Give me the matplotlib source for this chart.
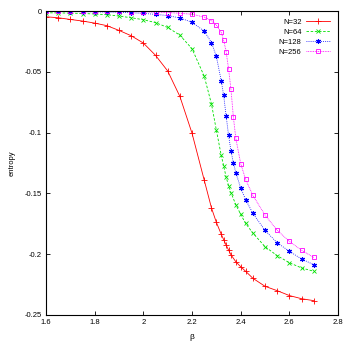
import matplotlib
matplotlib.use("Agg")
import matplotlib.pyplot as plt
from matplotlib.ticker import FuncFormatter

plt.rcParams['font.family'] = ['Liberation Sans', 'DejaVu Sans']

beta_a = [1.6, 1.65, 1.7, 1.75, 1.8, 1.85, 1.9, 1.95, 2.0, 2.05, 2.1, 2.15, 2.2, 2.25,
          2.28, 2.30, 2.32, 2.33, 2.34, 2.35, 2.36, 2.38, 2.40, 2.42, 2.45, 2.5, 2.55, 2.6, 2.65, 2.7]
beta_b = [1.6, 1.65, 1.7, 1.75, 1.8, 1.85, 1.9, 1.95, 2.0, 2.05, 2.1, 2.15, 2.2, 2.25,
          2.28, 2.30, 2.32, 2.33, 2.34, 2.35, 2.36, 2.37, 2.38, 2.40, 2.42, 2.45, 2.5, 2.55, 2.6, 2.65, 2.7]

s_32 = [-0.0047, -0.0055, -0.0069, -0.0082, -0.0099, -0.0120, -0.0159, -0.0203, -0.0263, -0.0364,
        -0.0493, -0.0702, -0.1005, -0.1390, -0.1620, -0.1738, -0.1836, -0.1880, -0.1925, -0.1965,
        -0.2005, -0.2062, -0.2103, -0.2140, -0.2198, -0.2264, -0.2300, -0.2340, -0.2366, -0.2382]
s_64 = [-0.0014, -0.0015, -0.0017, -0.0020, -0.0024, -0.0030, -0.0041, -0.0055, -0.0071, -0.0095,
        -0.0135, -0.0198, -0.0310, -0.0535, -0.0765, -0.0980, -0.1187, -0.1273, -0.1365, -0.1435,
        -0.1494, -0.1593, -0.1672, -0.1746, -0.1826, -0.1938, -0.2012, -0.2070, -0.2113, -0.2140]
s_128 = [-0.0003, -0.0003, -0.0004, -0.0005, -0.0006, -0.0008, -0.0010, -0.0014, -0.0019, -0.0027,
         -0.0037, -0.0057, -0.0092, -0.0165, -0.0259, -0.0373, -0.0573, -0.0694, -0.0860, -0.1020,
         -0.1150, -0.1250, -0.1330, -0.1455, -0.1550, -0.1664, -0.1804, -0.1906, -0.1976, -0.2039, -0.2086]
s_256 = [-0.0001, -0.0001, -0.0001, -0.0001, -0.0002, -0.0002, -0.0003, -0.0004, -0.0006, -0.0008,
         -0.0012, -0.0018, -0.0026, -0.0050, -0.0078, -0.0116, -0.0175, -0.0240, -0.0333, -0.0473,
         -0.0644, -0.0874, -0.1048, -0.1254, -0.1385, -0.1516, -0.1678, -0.1804, -0.1894, -0.1968, -0.2026]

labels = ["N=32", "N=64", "N=128", "N=256"]
xticks = [1.6, 1.8, 2.0, 2.2, 2.4, 2.6, 2.8]
yticks = [0, -0.05, -0.1, -0.15, -0.2, -0.25]

fig = plt.figure(figsize=(3.46, 3.46), dpi=100)
ax = fig.add_axes([0.133, 0.0896, 0.844, 0.8784])

ax.plot(beta_a, s_32, color='#ff0000', lw=0.6, ls='-', marker='+', ms=4, mew=0.6, label=labels[0])
ax.plot(beta_a, s_64, color='#00e000', lw=0.6, ls=(0, (3, 2)), marker='x', ms=3.2, mew=0.6, label=labels[1])
ax.plot(beta_b, s_128, color='#0000ff', lw=0.6, ls=(0, (1, 1.5)), marker=(6, 2, 0), ms=3.6, mew=0.8, label=labels[2])
ax.plot(beta_b, s_256, color='#ff00ff', lw=0.6, ls=(0, (1, 1)), marker='s', ms=3.2, mew=0.6,
        mfc='none', label=labels[3])

ax.set_xlim(1.6, 2.8)
ax.set_ylim(-0.25, 0)
ax.set_xticks(xticks)
ax.set_yticks(yticks)
fmt = FuncFormatter(lambda v, p: ('%g' % round(v, 3)))
ax.xaxis.set_major_formatter(fmt)
ax.yaxis.set_major_formatter(fmt)
ax.tick_params(direction='in', length=3, width=0.6, labelsize=5.5, top=True, right=True, pad=3)
for sp in ax.spines.values():
    sp.set_linewidth(0.8)

ax.set_xlabel('β', fontsize=6, labelpad=6)
ax.set_ylabel('entropy', fontsize=5.5)
ax.yaxis.set_label_coords(-0.105, 0.5)

leg = ax.legend(loc='upper right', frameon=False, markerfirst=False, fontsize=5.5,
                handlelength=3.2, handletextpad=0.6, labelspacing=0.35,
                borderaxespad=0.6)

fig.savefig('out.png', dpi=100)
